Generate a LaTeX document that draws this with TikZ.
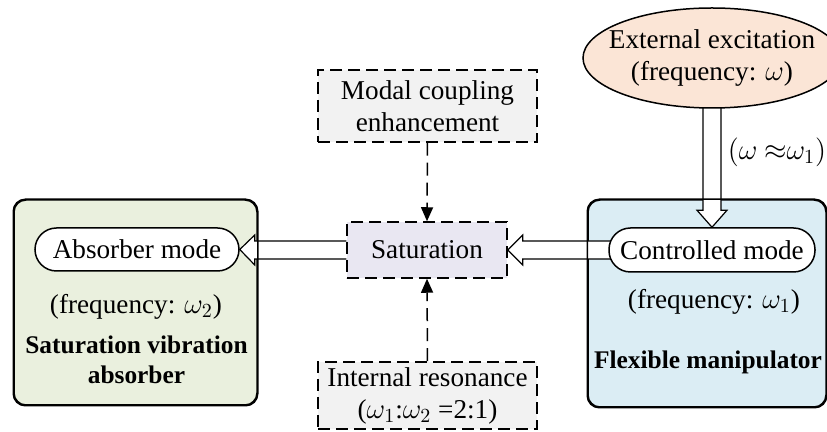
\documentclass[tikz,border=0pt]{standalone}
\usepackage{fontspec}
\setmainfont{Liberation Serif}
\usetikzlibrary{shapes.geometric,arrows.meta,calc}
\pgfdeclarelayer{back}\pgfdeclarelayer{mid}\pgfsetlayers{back,mid,main}
\definecolor{grn}{RGB}{234,240,222}
\definecolor{blu}{RGB}{219,237,244}
\definecolor{pch}{RGB}{251,229,214}
\definecolor{lav}{RGB}{233,231,242}
\definecolor{gry}{RGB}{242,242,242}
\tikzset{
  txt/.style={font=\fontsize{13.6}{16}\selectfont, inner sep=0pt, align=center},
  btxt/.style={txt, font=\fontsize{12.7}{15}\selectfont\bfseries},
  bigbox/.style={draw, line width=0.75pt, rounded corners=6pt, inner sep=0pt},
  pill/.style={txt, draw, fill=white, line width=0.75pt, rounded corners=10.75pt},
  dbox/.style={txt, draw, line width=0.75pt, dash pattern=on 6pt off 3pt},
  dasharrow/.style={line width=0.75pt, dash pattern=on 6.5pt off 3.5pt, -{Triangle[width=6pt,length=7pt]}},
  hollow/.style={draw, fill=white, line width=0.6pt, line join=miter}
}
\begin{document}
\begin{tikzpicture}[x=0.5pt,y=-0.5pt]
\useasboundingbox (0,0) rectangle (827,432);
\begin{pgfonlayer}{back}
\node[bigbox, fill=grn, minimum width=121.5pt, minimum height=102.5pt] (green) at (135.5,302.5) {};
\node[bigbox, fill=blu, minimum width=119pt, minimum height=103.5pt] (blue) at (707,303.5) {};
\end{pgfonlayer}
% left box content
\node[pill, minimum width=102pt, minimum height=21.5pt] (abs) at (137,249.5) {Absorber mode};
\node[txt] (f2) at (136,307) {(frequency: $\omega_2$)};
\node[btxt] (sva) at (136.5,360) {Saturation vibration\\absorber};
% right box content
\node[pill, minimum width=103pt, minimum height=22pt] (ctrl) at (712,250) {Controlled mode};
\node[txt] (f1) at (714,302) {(frequency: $\omega_1$)};
\node[btxt] (flex) at (708,362) {Flexible manipulator};
% excitation
\node[ellipse, draw, fill=pch, line width=0.75pt, inner sep=0pt, minimum width=129pt, minimum height=50pt,
      label={[txt]center:External excitation\\(frequency: $\omega$)}] (exc) at (712,58) {};
\node[txt] (appr) at (777,152) {$(\omega\ {\approx}\omega_1)$};
% middle column
\node[dbox, fill=lav, minimum width=80pt, minimum height=28pt] (sat) at (427,250) {Saturation};
\node[dbox, fill=gry, minimum width=109.5pt, minimum height=36pt] (modal) at (427.5,106) {Modal coupling\\enhancement};
\node[dbox, fill=gry, minimum width=109.5pt, minimum height=33.5pt] (intr) at (427.5,395.5) {Internal resonance\\($\omega_1$:$\omega_2$ =2:1)};
% arrows
\begin{pgfonlayer}{mid}
\draw[hollow] let \p1=(sat.west), \p2=(abs.east) in
  (\x1,\y1+4.5pt) -- (\x2+7.5pt,\y1+4.5pt) -- (\x2+7.5pt,\y1+7.5pt) -- (\x2,\y2)
  -- (\x2+7.5pt,\y1-7.5pt) -- (\x2+7.5pt,\y1-4.5pt) -- (\x1,\y1-4.5pt);
\draw[hollow] let \p1=(ctrl.west), \p2=(sat.east) in
  (\x1+2pt,\y1+4.5pt) -- (\x2+7.5pt,\y1+4.5pt) -- (\x2+7.5pt,\y1+7.5pt) -- (\x2,\y2)
  -- (\x2+7.5pt,\y1-7.5pt) -- (\x2+7.5pt,\y1-4.5pt) -- (\x1+2pt,\y1-4.5pt);
\draw[hollow] let \p1=(exc.south), \p2=(ctrl.north) in
  (\x2-4.5pt,\y1+5pt) -- (\x2-4.5pt,\y2+8.5pt) -- (\x2-7.5pt,\y2+8.5pt) -- (\x2,\y2)
  -- (\x2+7.5pt,\y2+8.5pt) -- (\x2+4.5pt,\y2+8.5pt) -- (\x2+4.5pt,\y1+5pt);
\end{pgfonlayer}
\draw[line width=0.75pt, rounded corners=6pt] (green.north west) rectangle (green.south east);
\draw[line width=0.75pt, rounded corners=6pt] (blue.north west) rectangle (blue.south east);
\draw[dasharrow] (modal.south) -- (sat.north);
\draw[dasharrow] (intr.north) -- (sat.south);
\end{tikzpicture}
\end{document}
